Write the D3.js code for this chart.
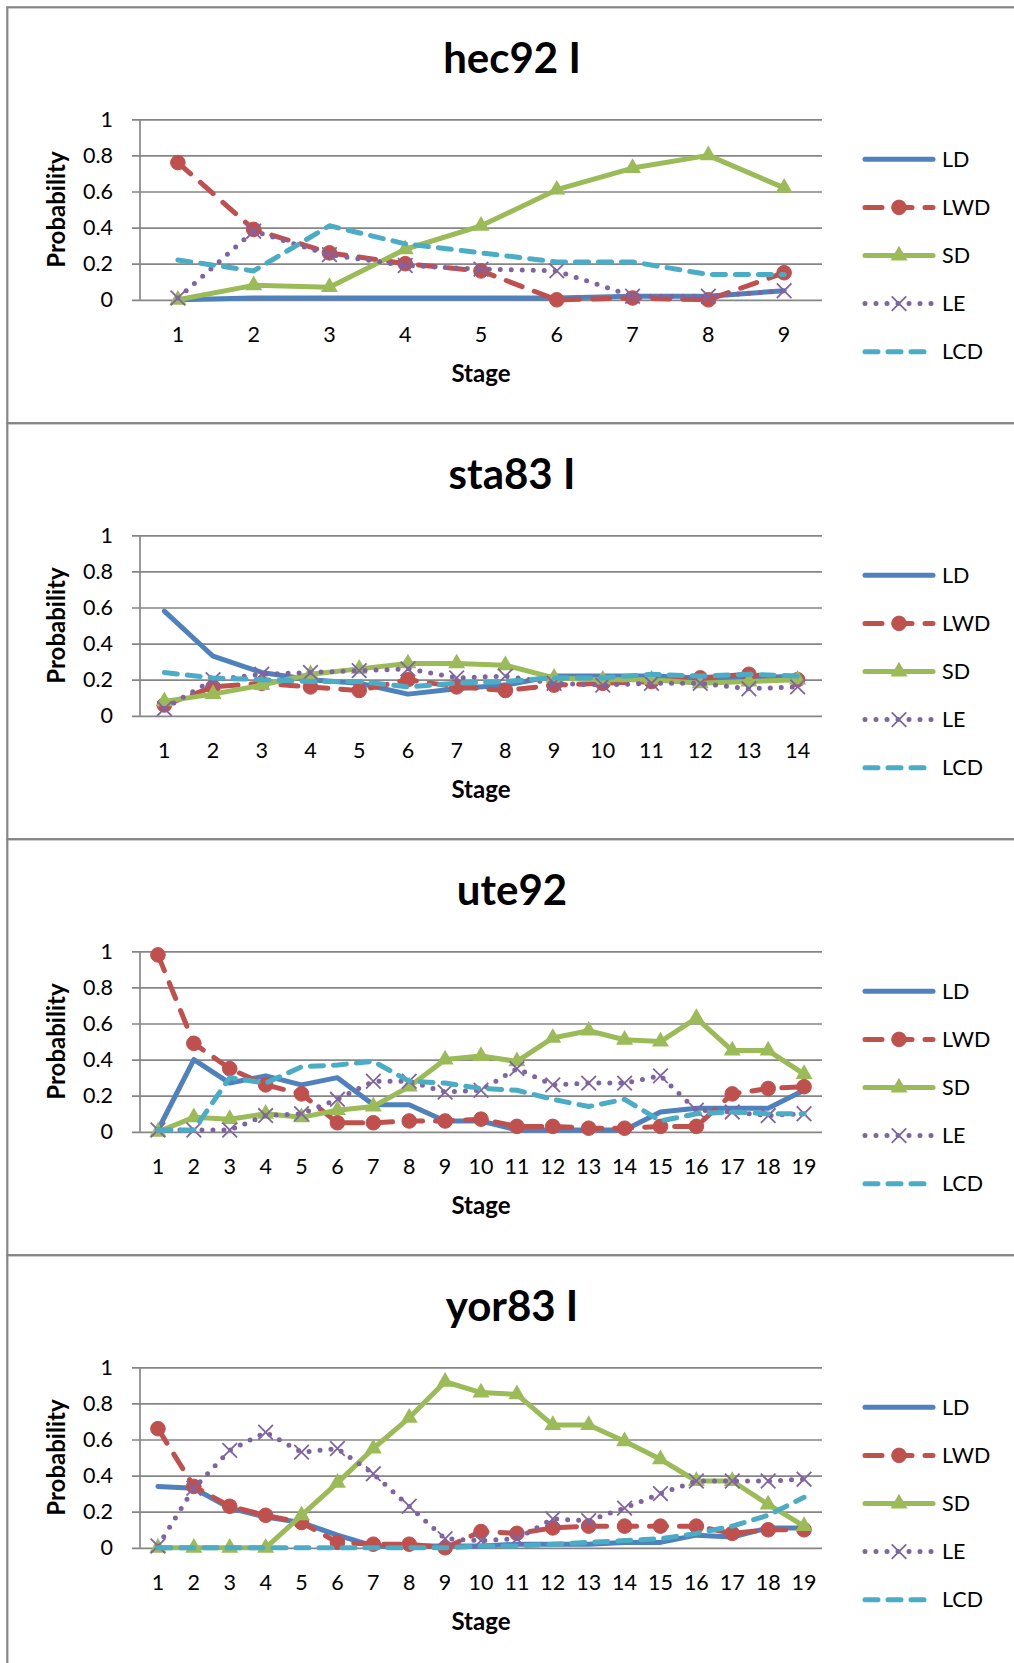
<!DOCTYPE html>
<html>
<head>
<meta charset="utf-8">
<script src="https://cdn.jsdelivr.net/npm/d3@7"></script>
<style>
  html, body { margin: 0; padding: 0; background: #ffffff; }
  svg { display: block; }
  text { font-family: Lato, "Open Sans", "Liberation Sans", sans-serif; fill: #000; }
</style>
</head>
<body>
<svg id="chart" width="1014" height="1663"></svg>
<script>
// ---- data ----
const seriesNames = ["LD", "LWD", "SD", "LE", "LCD"];
const yTicks = [0, 0.2, 0.4, 0.6, 0.8, 1];
const yTickLabels = ["0", "0.2", "0.4", "0.6", "0.8", "1"];

const panelTitles = ["hec92 I", "sta83 I", "ute92", "yor83 I"];

const stages9 = ["1", "2", "3", "4", "5", "6", "7", "8", "9"];
const stages14 = ["1", "2", "3", "4", "5", "6", "7", "8", "9", "10", "11", "12", "13", "14"];
const stages19 = ["1", "2", "3", "4", "5", "6", "7", "8", "9", "10", "11", "12", "13", "14", "15", "16", "17", "18", "19"];

const hec92LD  = [0.00, 0.01, 0.01, 0.01, 0.01, 0.01, 0.02, 0.02, 0.05];
const hec92LWD = [0.76, 0.39, 0.26, 0.20, 0.16, 0.00, 0.01, 0.00, 0.15];
const hec92SD  = [0.00, 0.08, 0.07, 0.28, 0.41, 0.61, 0.73, 0.80, 0.62];
const hec92LE  = [0.01, 0.38, 0.25, 0.19, 0.17, 0.16, 0.02, 0.02, 0.05];
const hec92LCD = [0.22, 0.16, 0.41, 0.31, 0.26, 0.21, 0.21, 0.14, 0.14];

const sta83LD  = [0.58, 0.33, 0.24, 0.20, 0.18, 0.12, 0.15, 0.17, 0.22, 0.22, 0.22, 0.21, 0.21, 0.22];
const sta83LWD = [0.06, 0.16, 0.18, 0.16, 0.14, 0.20, 0.16, 0.14, 0.17, 0.18, 0.19, 0.21, 0.23, 0.20];
const sta83SD  = [0.08, 0.12, 0.17, 0.23, 0.26, 0.29, 0.29, 0.28, 0.21, 0.20, 0.20, 0.18, 0.19, 0.20];
const sta83LE  = [0.04, 0.20, 0.23, 0.24, 0.25, 0.26, 0.21, 0.22, 0.18, 0.17, 0.18, 0.18, 0.15, 0.16];
const sta83LCD = [0.24, 0.21, 0.20, 0.19, 0.19, 0.16, 0.18, 0.19, 0.21, 0.21, 0.23, 0.22, 0.23, 0.22];

const ute92LD  = [0.01, 0.40, 0.27, 0.31, 0.26, 0.30, 0.15, 0.15, 0.06, 0.06, 0.01, 0.01, 0.01, 0.01, 0.11, 0.13, 0.13, 0.13, 0.23];
const ute92LWD = [0.98, 0.49, 0.35, 0.26, 0.21, 0.05, 0.05, 0.06, 0.06, 0.07, 0.03, 0.03, 0.02, 0.02, 0.03, 0.03, 0.21, 0.24, 0.25];
const ute92SD  = [0.00, 0.08, 0.07, 0.10, 0.08, 0.12, 0.14, 0.25, 0.40, 0.42, 0.39, 0.52, 0.56, 0.51, 0.50, 0.63, 0.45, 0.45, 0.32];
const ute92LE  = [0.01, 0.01, 0.01, 0.09, 0.10, 0.18, 0.28, 0.28, 0.22, 0.23, 0.35, 0.26, 0.27, 0.27, 0.31, 0.12, 0.11, 0.09, 0.10];
const ute92LCD = [0.01, 0.01, 0.30, 0.27, 0.36, 0.37, 0.39, 0.28, 0.27, 0.24, 0.23, 0.18, 0.14, 0.18, 0.06, 0.10, 0.11, 0.10, 0.10];

const yor83LD  = [0.34, 0.33, 0.22, 0.17, 0.14, 0.07, 0.01, 0.01, 0.01, 0.01, 0.02, 0.02, 0.02, 0.03, 0.03, 0.07, 0.06, 0.11, 0.11];
const yor83LWD = [0.66, 0.34, 0.23, 0.18, 0.14, 0.03, 0.02, 0.02, 0.00, 0.09, 0.08, 0.11, 0.12, 0.12, 0.12, 0.12, 0.08, 0.10, 0.10];
const yor83SD  = [0.00, 0.00, 0.00, 0.00, 0.18, 0.36, 0.55, 0.72, 0.92, 0.86, 0.85, 0.68, 0.68, 0.59, 0.49, 0.37, 0.37, 0.24, 0.12];
const yor83LE  = [0.01, 0.33, 0.54, 0.64, 0.53, 0.55, 0.41, 0.23, 0.05, 0.04, 0.05, 0.16, 0.15, 0.22, 0.30, 0.37, 0.37, 0.37, 0.38];
const yor83LCD = [0.00, 0.00, 0.00, 0.00, 0.00, 0.00, 0.00, 0.00, 0.00, 0.01, 0.01, 0.02, 0.03, 0.04, 0.05, 0.08, 0.12, 0.18, 0.28];

// ---- series styling ----
const styles = {
  LD:  { color: "#4F81BD", dash: null,    marker: null },
  LWD: { color: "#C0504D", dash: "17,13", marker: "circle" },
  SD:  { color: "#9BBB59", dash: null,    marker: "triangle" },
  LE:  { color: "#8064A2", dash: "0,11",  marker: "x" },
  LCD: { color: "#4BACC6", dash: "13,10", marker: null }
};

const panels = [
  { title: panelTitles[0], stages: stages9,  series: [hec92LD, hec92LWD, hec92SD, hec92LE, hec92LCD] },
  { title: panelTitles[1], stages: stages14, series: [sta83LD, sta83LWD, sta83SD, sta83LE, sta83LCD] },
  { title: panelTitles[2], stages: stages19, series: [ute92LD, ute92LWD, ute92SD, ute92LE, ute92LCD] },
  { title: panelTitles[3], stages: stages19, series: [yor83LD, yor83LWD, yor83SD, yor83LE, yor83LCD] }
];

// ---- layout ----
const panelTop0 = 7.3, panelPitch = 416;
const plotLeft = 140, plotRight = 822;
const plotTopOff = 112, plotH = 180.5;
const gridColor = "#868686";
const lineW = 5;

const svg = d3.select("#chart");

function drawMarker(g, type, color, x, y) {
  if (type === "circle") {
    g.append("circle").attr("cx", x).attr("cy", y).attr("r", 7.3)
      .attr("fill", color).attr("stroke", color).attr("stroke-width", 1);
  } else if (type === "triangle") {
    g.append("path").attr("d", d3.symbol(d3.symbolTriangle, 125)())
      .attr("transform", `translate(${x},${y})`).attr("fill", color);
  } else if (type === "x") {
    g.append("path").attr("d", "M-7.3,-7.3L7.3,7.3M7.3,-7.3L-7.3,7.3")
      .attr("transform", `translate(${x},${y})`)
      .attr("fill", "none").attr("stroke", color).attr("stroke-width", 1.8);
  }
}

panels.forEach((p, i) => {
  const top = panelTop0 + i * panelPitch;
  const g = svg.append("g");

  // panel frame
  g.append("rect").attr("x", 7.3).attr("y", top).attr("width", 1030).attr("height", panelPitch)
    .attr("fill", "#fff").attr("stroke", gridColor).attr("stroke-width", 2.2);

  const yTop = top + plotTopOff, yBot = yTop + plotH;
  const x = d3.scalePoint().domain(p.stages).range([plotLeft, plotRight]).padding(0.5);
  const y = d3.scaleLinear().domain([0, 1]).range([yBot, yTop]);

  // title
  g.append("text").attr("x", 512).attr("y", top + 65.4).attr("text-anchor", "middle")
    .style("font-size", "42px").style("font-weight", "bold").text(p.title);

  // gridlines with tick marks
  const yAxis = d3.axisLeft(y).tickValues(yTicks).tickSize(-(plotRight - plotLeft)).tickFormat("");
  const ga = g.append("g").attr("transform", `translate(${plotLeft},0)`).call(yAxis);
  ga.select(".domain").remove();
  ga.selectAll(".tick line").attr("x1", -8).attr("stroke", gridColor).attr("stroke-width", 1.7);
  g.append("line").attr("x1", plotLeft).attr("x2", plotLeft).attr("y1", yTop).attr("y2", yBot)
    .attr("stroke", gridColor).attr("stroke-width", 1.7);

  // y tick labels
  g.selectAll(".ylab").data(yTicks).enter().append("text")
    .attr("x", 113).attr("y", d => y(d) + 7.5).attr("text-anchor", "end")
    .style("font-size", "21.5px").text((d, k) => yTickLabels[k]);

  // x tick labels
  g.selectAll(".xlab").data(p.stages).enter().append("text")
    .attr("x", d => x(d)).attr("y", yBot + 42).attr("text-anchor", "middle")
    .style("font-size", "21.5px").text(d => d);

  // axis titles
  g.append("text").attr("x", (plotLeft + plotRight) / 2).attr("y", yBot + 82)
    .attr("text-anchor", "middle").style("font-size", "24px").style("font-weight", "bold").text("Stage");
  g.append("text").attr("transform", `translate(65,${(yTop + yBot) / 2}) rotate(-90)`)
    .attr("text-anchor", "middle").style("font-size", "24px").style("font-weight", "bold").text("Probability");

  // series
  const line = d3.line().x((d, k) => x(p.stages[k])).y(d => y(d));
  p.series.forEach((vals, s) => {
    const st = styles[seriesNames[s]];
    const sg = g.append("g");
    sg.append("path").attr("d", line(vals)).attr("fill", "none")
      .attr("stroke", st.color).attr("stroke-width", lineW)
      .attr("stroke-linecap", "round").attr("stroke-linejoin", "round")
      .attr("stroke-dasharray", st.dash);
    if (st.marker) vals.forEach((v, k) => drawMarker(sg, st.marker, st.color, x(p.stages[k]), y(v)));
  });

  // legend
  seriesNames.forEach((name, s) => {
    const st = styles[name];
    const ly = top + 152 + s * 48.1;
    const lg = g.append("g");
    lg.append("line").attr("x1", 865).attr("x2", 933).attr("y1", ly).attr("y2", ly)
      .attr("stroke", st.color).attr("stroke-width", lineW)
      .attr("stroke-linecap", "round").attr("stroke-dasharray", st.dash);
    if (st.marker) drawMarker(lg, st.marker, st.color, 899, ly);
    lg.append("text").attr("x", 942).attr("y", ly).attr("dy", "0.36em")
      .style("font-size", "21.5px").text(name);
  });
});
</script>
</body>
</html>
